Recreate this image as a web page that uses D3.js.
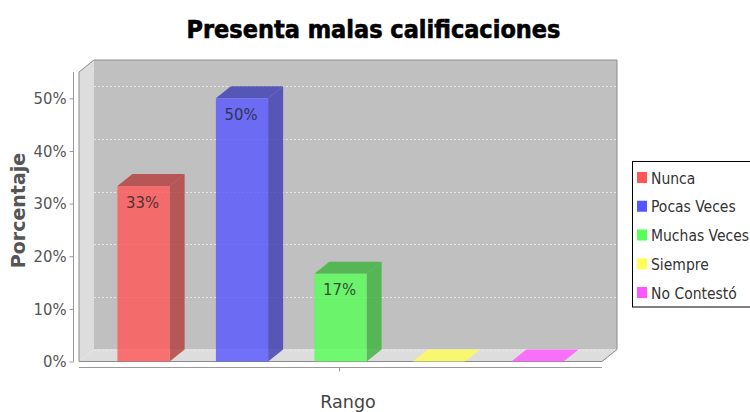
<!DOCTYPE html>
<html>
<head>
<meta charset="utf-8">
<script src="https://cdn.jsdelivr.net/npm/d3@7"></script>
<style>
  body { margin: 0; background: #fff; }
  #chart { width: 750px; height: 412px; }
</style>
</head>
<body>
<div id="chart"></div>
<script>
const chartTitle = "Presenta malas calificaciones";
const categoryLabel = "Rango";
const valueLabel = "Porcentaje";
const seriesNames = ["Nunca", "Pocas Veces", "Muchas Veces", "Siempre", "No Contestó"];
const seriesValues = [33.33, 50, 16.67, 0, 0];
const seriesColors = ["#ff5555", "#5555ff", "#55ff55", "#ffff55", "#ff55ff"];
const yTicks = [0, 10, 20, 30, 40, 50];

function renderBar3D(selector = "#chart") {
    const width = 750;
    const height = 412;
    const plot = { left: 79, right: 602, top: 72, bottom: 361.5 };
    const depth = { dx: 15, dy: 12 };
    const font = "'DejaVu Sans', sans-serif";
    const smallFont = "'DejaVu Sans Condensed', 'DejaVu Sans', sans-serif";

    const svg = d3.select(selector).append("svg")
        .attr("width", width)
        .attr("height", height)
        .style("display", "block")
        .style("font-family", font);

    const x = d3.scaleBand()
        .domain(seriesNames)
        .range([plot.left, plot.right])
        .paddingInner(0.47)
        .paddingOuter(0.39);

    const y = d3.scaleLinear()
        .domain([0, 55])
        .range([plot.bottom, plot.top]);

    const pts = p => p.map(d => d.join(",")).join(" ");
    const back = ([px, py]) => [px + depth.dx, py - depth.dy];

    // walls
    svg.append("polygon")
        .attr("points", pts([[plot.left + depth.dx, plot.top - depth.dy], [plot.right + depth.dx, plot.top - depth.dy],
            [plot.right + depth.dx, plot.bottom - depth.dy], [plot.left + depth.dx, plot.bottom - depth.dy]]))
        .attr("fill", "#c0c0c0");
    svg.append("polygon")
        .attr("points", pts([[plot.left, plot.top], back([plot.left, plot.top]), back([plot.left, plot.bottom]), [plot.left, plot.bottom]]))
        .attr("fill", "#dddddd");
    svg.append("polygon")
        .attr("points", pts([[plot.left, plot.bottom], back([plot.left, plot.bottom]), back([plot.right, plot.bottom]), [plot.right, plot.bottom]]))
        .attr("fill", "#dddddd");

    // gridlines
    const grid = svg.append("g")
        .attr("stroke", "#e6e6e6")
        .attr("stroke-width", 1)
        .attr("stroke-dasharray", "2,2");
    yTicks.forEach(t => {
        const yy = Math.round(y(t)) + 0.5;
        grid.append("line")
            .attr("x1", plot.left + depth.dx).attr("x2", plot.right + depth.dx)
            .attr("y1", yy - depth.dy).attr("y2", yy - depth.dy);
        grid.append("line")
            .attr("x1", plot.left).attr("x2", plot.left + depth.dx)
            .attr("y1", yy).attr("y2", yy - depth.dy)
            .attr("stroke-opacity", 0.6);
    });

    // outline
    svg.append("polygon")
        .attr("points", pts([[plot.left, plot.top], back([plot.left, plot.top]), back([plot.right, plot.top]),
            back([plot.right, plot.bottom]), [plot.right, plot.bottom], [plot.left, plot.bottom]]))
        .attr("fill", "none")
        .attr("stroke", "#8c8c8c")
        .attr("stroke-width", 1);

    // bars
    const bars = svg.append("g");
    seriesNames.forEach((name, i) => {
        const v = seriesValues[i];
        const base = d3.color(seriesColors[i]);
        const dark = base.darker(1);
        const x0 = x(name);
        const x1 = x0 + x.bandwidth();
        const y0 = y(0);
        const y1 = y(v);
        const g = bars.append("g").attr("fill-opacity", 0.8);
        if (v === 0) {
            g.append("polygon")
                .attr("points", pts([[x0, y0], back([x0, y0]), back([x1, y0]), [x1, y0]]))
                .attr("fill", base);
            return;
        }
        g.append("polygon")
            .attr("points", pts([[x1, y1], back([x1, y1]), back([x1, y0]), [x1, y0]]))
            .attr("fill", dark);
        g.append("polygon")
            .attr("points", pts([[x0, y1], back([x0, y1]), back([x1, y1]), [x1, y1]]))
            .attr("fill", dark);
        g.append("rect")
            .attr("x", x0).attr("y", y1)
            .attr("width", x.bandwidth()).attr("height", y0 - y1)
            .attr("fill", base);
        bars.append("text")
            .attr("x", x0 + x.bandwidth() / 2 - 1)
            .attr("y", y1 + 21.5)
            .attr("text-anchor", "middle")
            .attr("fill", "#222")
            .attr("fill-opacity", 0.8)
            .style("font-family", smallFont)
            .style("font-size", "16.5px")
            .text(d3.format(".0f")(v) + "%");
    });

    // value axis
    const yAxis = svg.append("g")
        .attr("transform", `translate(${plot.left - 5.5},0)`)
        .call(d3.axisLeft(y).tickValues(yTicks).tickSize(4).tickPadding(3).tickFormat(d => d + "%"));
    yAxis.select(".domain").attr("d", `M0,${plot.top}V${plot.bottom}`).attr("stroke", "#999");
    yAxis.selectAll(".tick line").attr("stroke", "#999");
    yAxis.selectAll("text")
        .attr("fill", "#555")
        .style("font-size", "16.5px")
        .style("font-family", smallFont);

    // category axis
    const xAxisY = plot.bottom + 6;
    svg.append("line")
        .attr("x1", plot.left).attr("x2", plot.right)
        .attr("y1", xAxisY).attr("y2", xAxisY)
        .attr("stroke", "#999");
    const catX = Math.round((plot.left + plot.right) / 2) - 1.5;
    svg.append("line")
        .attr("x1", catX).attr("x2", catX)
        .attr("y1", xAxisY).attr("y2", xAxisY + 4)
        .attr("stroke", "#999");

    svg.append("text")
        .attr("x", (plot.left + plot.right + depth.dx) / 2)
        .attr("y", 408)
        .attr("text-anchor", "middle")
        .attr("fill", "#444")
        .style("font-size", "17.5px")
        .text(categoryLabel);

    svg.append("text")
        .attr("transform", "rotate(-90)")
        .attr("x", -210.5)
        .attr("y", 25)
        .attr("text-anchor", "middle")
        .attr("fill", "#555")
        .style("font-size", "19px")
        .style("font-weight", "bold")
        .text(valueLabel);

    // title
    const title = svg.append("text")
        .attr("x", 373.5)
        .attr("y", 38)
        .attr("text-anchor", "middle")
        .attr("fill", "#000")
        .attr("stroke", "#000")
        .attr("stroke-width", 0.6)
        .style("font-family", "'Liberation Sans Narrow', 'DejaVu Sans Condensed', sans-serif")
        .style("font-weight", "bold")
        .style("font-size", "26px")
        .text(chartTitle);
    const tw = title.node().getComputedTextLength();
    if (tw > 0) title.style("font-size", (26 * 374 / tw).toFixed(2) + "px");

    // legend
    const legend = svg.append("g").attr("transform", "translate(632.5,161.5)");
    legend.append("rect")
        .attr("width", 140).attr("height", 145.5)
        .attr("fill", "#fff")
        .attr("stroke", "#000");
    seriesNames.forEach((name, i) => {
        const cy = 16 + i * 28.75;
        legend.append("rect")
            .attr("x", 4.5).attr("y", cy - 5.5)
            .attr("width", 10).attr("height", 11)
            .attr("fill", seriesColors[i]);
        legend.append("text")
            .attr("x", 18.5).attr("y", cy + 6)
            .attr("fill", "#333")
            .style("font-family", smallFont)
            .style("font-size", "15.5px")
            .text(name);
    });
}

renderBar3D();
</script>
</body>
</html>
